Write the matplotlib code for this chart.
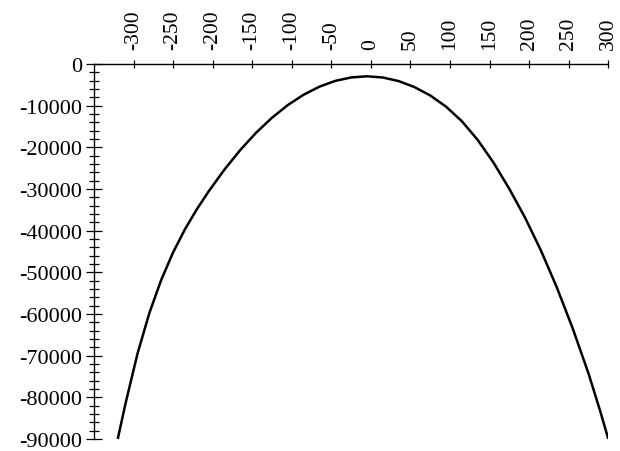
import matplotlib
matplotlib.use("Agg")
import matplotlib.pyplot as plt
from matplotlib.ticker import FixedLocator, MultipleLocator

plt.rcParams['font.family'] = ['Liberation Serif', 'DejaVu Serif']
plt.rcParams['axes.unicode_minus'] = False

# Curve points (left branch, vertex, right branch)
curve_x = [-320, -310, -295, -280, -265, -250, -235, -220, -205, -185, -165, -145,
           -125, -105, -85, -65, -45, -25, -5, 15, 35, 55, 75, 95, 115, 135, 155,
           175, 195, 215, 235, 255, 275, 290, 300]
curve_y = [-90000, -81350, -69500, -59750, -51800, -45200, -39650, -34850, -30550,
           -25300, -20610, -16470, -12890, -9850, -7370, -5430, -4050, -3230, -2950,
           -3240, -4100, -5540, -7560, -10250, -13750, -18240, -23690, -30000,
           -36950, -44820, -53640, -63450, -74290, -83450, -90000]

x_ticks = [-300, -250, -200, -150, -100, -50, 0, 50, 100, 150, 200, 250, 300]
x_labels = ["-300", "-250", "-200", "-150", "-100", "-50", "0", "50", "100",
            "150", "200", "250", "300"]
y_ticks = [0, -10000, -20000, -30000, -40000, -50000, -60000, -70000, -80000, -90000]
y_labels = ["0", "-10000", "-20000", "-30000", "-40000", "-50000", "-60000",
            "-70000", "-80000", "-90000"]

W, H = 620, 452
fig = plt.figure(figsize=(W / 100, H / 100), dpi=100)
ax = fig.add_axes([94 / W, 1 - 440 / H, (608.3 - 94) / W, (440 - 65) / H])

ax.plot(curve_x, curve_y, color='black', lw=1.8, solid_joinstyle='round',
        solid_capstyle='butt')

ax.set_xlim(-350, 300)
ax.set_ylim(-90000, 0)

for s in ['right', 'bottom']:
    ax.spines[s].set_visible(False)
for s in ['left', 'top']:
    ax.spines[s].set_linewidth(1.0)

ax.xaxis.tick_top()
ax.xaxis.set_major_locator(FixedLocator(x_ticks))
ax.set_xticklabels(x_labels, rotation=90)
ax.tick_params(axis='x', which='major', direction='inout', length=5.8, width=0.9,
               pad=8.0, labelsize=15.5)

ax.yaxis.set_major_locator(FixedLocator(y_ticks))
ax.set_yticklabels(y_labels)
ax.yaxis.set_minor_locator(MultipleLocator(2000))
ax.tick_params(axis='y', which='major', direction='inout', length=11.5, width=0.9,
               pad=3.0, labelsize=16)
ax.tick_params(axis='y', which='minor', direction='inout', length=7.2, width=0.9)

fig.savefig('out.png', dpi=100)
